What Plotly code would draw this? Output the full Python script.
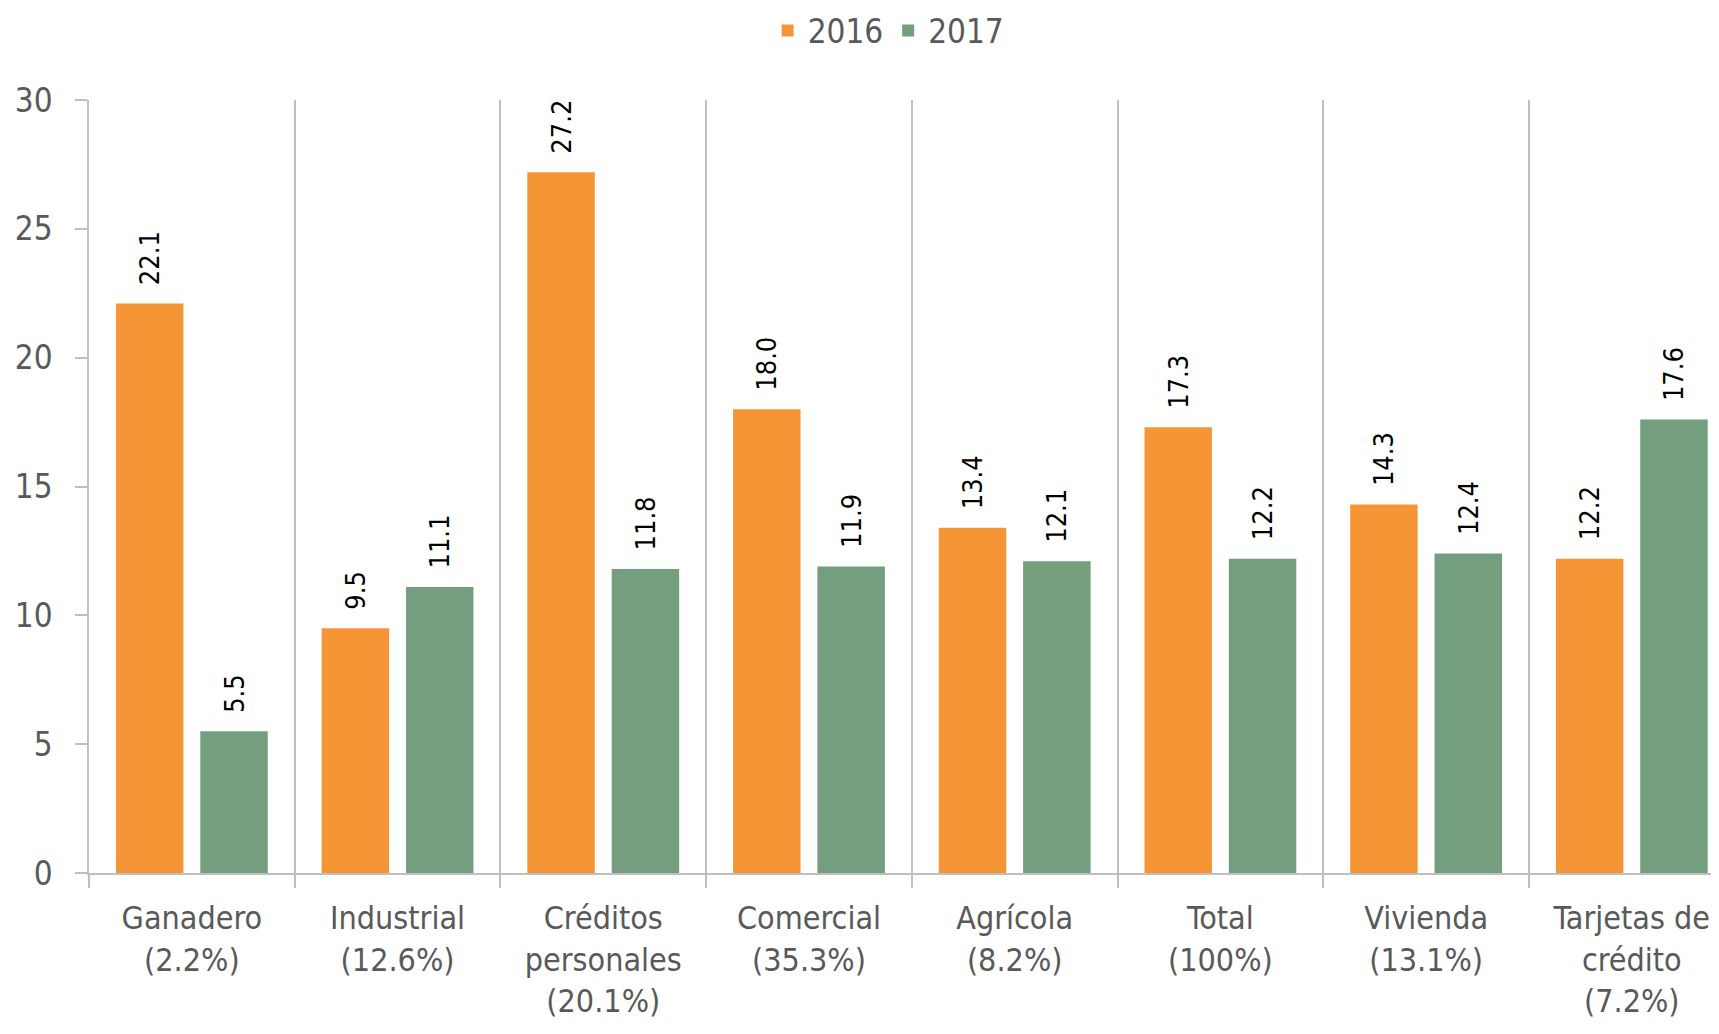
import plotly.graph_objects as go

categorias = [
    "Ganadero<br>(2.2%)",
    "Industrial<br>(12.6%)",
    "Créditos<br>personales<br>(20.1%)",
    "Comercial<br>(35.3%)",
    "Agrícola<br>(8.2%)",
    "Total<br>(100%)",
    "Vivienda<br>(13.1%)",
    "Tarjetas de<br>crédito<br>(7.2%)",
]
valores_2016 = [22.1, 9.5, 27.2, 18.0, 13.4, 17.3, 14.3, 12.2]
valores_2017 = [5.5, 11.1, 11.8, 11.9, 12.1, 12.2, 12.4, 17.6]

fuente = "Liberation Sans Narrow, DejaVu Sans Condensed, Roboto, sans-serif"
gris = "#595959"
linea = "#BFBFBF"

fig = go.Figure()
for nombre, valores, color in [
    ("2016", valores_2016, "#F69535"),
    ("2017", valores_2017, "#749F7E"),
]:
    fig.add_trace(go.Bar(
        name=nombre,
        x=categorias,
        y=valores,
        marker_color=color,
        marker_line_width=0,
        texttemplate="\u00a0\u00a0%{y:.1f}",
        textposition="outside",
        textangle=-90,
        textfont=dict(family=fuente, size=27, color="black"),
        cliponaxis=False,
    ))

# la página añade 8px de margen al body
fig.update_layout(
    width=1703,
    height=1018,
    margin=dict(l=81, r=0, t=92, b=153, autoexpand=False),
    paper_bgcolor="white",
    plot_bgcolor="white",
    barmode="group",
    bargap=0.18,
    bargroupgap=0.2,
    font=dict(family=fuente, size=32, color=gris),
    legend=dict(
        orientation="h",
        x=0.493, xanchor="center",
        y=1.09, yanchor="middle",
        font=dict(size=33, color=gris),
    ),
    uniformtext=dict(minsize=27, mode="show"),
)

fig.update_xaxes(
    range=[-0.5, 7.385],
    tickson="boundaries",
    showgrid=True,
    gridcolor=linea,
    gridwidth=1.5,
    showline=True,
    linecolor=linea,
    linewidth=1.5,
    ticks="outside",
    ticklen=13,
    tickcolor=linea,
    tickwidth=1.5,
    ticklabelstandoff=16,
    tickfont=dict(size=32, color=gris),
)
fig.update_yaxes(
    range=[0, 30],
    dtick=5,
    showgrid=False,
    zeroline=False,
    showline=True,
    linecolor=linea,
    linewidth=1.5,
    ticks="outside",
    ticklen=12,
    tickcolor=linea,
    tickwidth=1.5,
    ticklabelstandoff=16,
    tickfont=dict(size=33, color=gris),
)

fig.write_html("out.html")
